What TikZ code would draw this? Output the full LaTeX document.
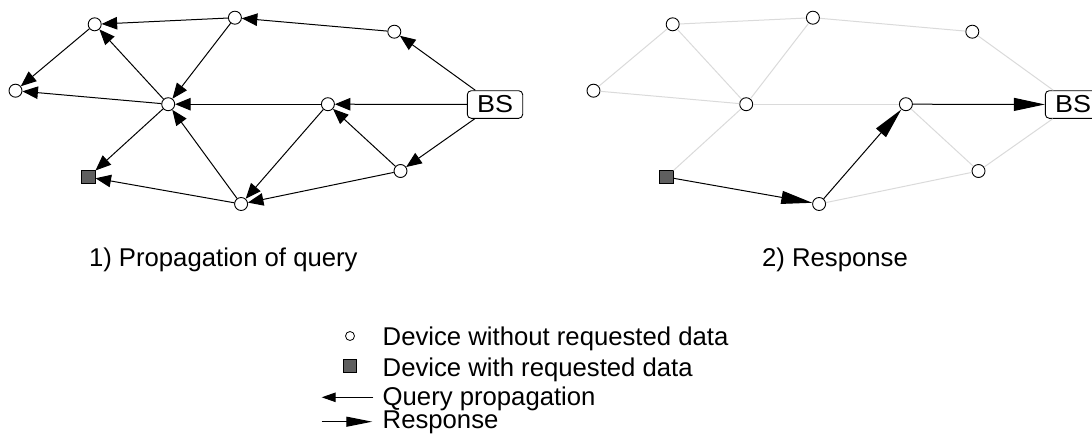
\documentclass[tikz,border=0pt]{standalone}
\usepackage{fontspec}
\setmainfont{Liberation Sans}
\usetikzlibrary{arrows.meta}

\tikzset{
  dev/.style={circle, draw, line width=0.9pt, fill=white, minimum size=13pt, inner sep=0pt},
  devdata/.style={rectangle, draw, line width=0.9pt, fill=datagray, minimum size=13.5pt, inner sep=0pt},
  bsbox/.style={rectangle, rounded corners=4pt, draw, line width=0.9pt, fill=white,
    minimum width=55.4pt, minimum height=27.6pt, inner sep=0pt,
    font=\fontsize{24.5}{26}\selectfont},
  qarrow/.style={line width=1pt, -{Triangle[length=15.5pt,width=12.5pt]}},
  rarrow/.style={line width=1pt, -{Triangle[length=31pt,width=13pt]}},
  faint/.style={line width=1pt, draw=linkgray},
  txt/.style={inner sep=0pt, font=\fontsize{25.7}{30}\selectfont},
}
\definecolor{datagray}{HTML}{5F5F5F}
\definecolor{linkgray}{HTML}{DADADA}

\begin{document}
\begin{tikzpicture}[x=1pt, y=-1pt]
\useasboundingbox (0,0) rectangle (1092,434);

% ---------- 1) propagation of the query ----------
\node[dev] (A) at (94.7,24.3) {};
\node[dev] (B) at (234.9,17.7) {};
\node[dev] (C) at (394.3,31.7) {};
\node[dev] (D) at (15.5,90.7) {};
\node[dev] (E) at (168.2,104.2) {};
\node[dev] (F) at (327.9,104.2) {};
\node[dev] (G) at (400.5,171) {};
\node[dev] (H) at (241.1,204) {};
\node[devdata] (S) at (88.3,177) {};
\node[bsbox] (BS) at (495,104.5) {\scalebox{1.1}[1]{BS}};

\draw[qarrow] (B) -- (A);
\draw[qarrow] (C) -- (B);
\draw[qarrow] (BS) -- (C);
\draw[qarrow] (A) -- (D);
\draw[qarrow] (E) -- (D);
\draw[qarrow] (E) -- (A);
\draw[qarrow] (B) -- (E);
\draw[qarrow] (F) -- (E);
\draw[qarrow] (BS) -- (F);
\draw[qarrow] (BS) -- (G);
\draw[qarrow] (G) -- (F);
\draw[qarrow] (F) -- (H);
\draw[qarrow] (G) -- (H);
\draw[qarrow] (H) -- (E);
\draw[qarrow] (E) -- (S);
\draw[qarrow] (H) -- (S);

\node[txt, anchor=base] (t1) at (223.3,266.7) {1) Propagation of query};

% ---------- 2) response ----------
\begin{scope}[xshift=578pt]
\node[dev] (rA) at (94.7,24.3) {};
\node[dev] (rB) at (234.9,17.7) {};
\node[dev] (rC) at (394.3,31.7) {};
\node[dev] (rD) at (15.5,90.7) {};
\node[dev] (rE) at (168.2,104.2) {};
\node[dev] (rF) at (327.9,104.2) {};
\node[dev] (rG) at (400.5,171) {};
\node[dev] (rH) at (241.1,204) {};
\node[devdata] (rS) at (88.3,177) {};
\node[bsbox] (rBS) at (495,104.5) {\scalebox{1.1}[1]{BS}};
\end{scope}

% links of the network, drawn faint
\foreach \u/\v in {rA/rB, rB/rC, rC/rBS, rA/rD, rD/rE, rA/rE, rB/rE, rE/rF, rBS/rG, rF/rG, rG/rH, rE/rS}
  \draw[faint] (\u) -- (\v);

% the response path
\draw[rarrow] (rS) -- (rH);
\draw[rarrow] (rH) -- (rF);
\draw[rarrow] (rF) -- (rBS);

\node[txt, anchor=base] (t2) at (835,266.7) {2) Response};

% ---------- legend ----------
\node[dev, minimum size=9pt, line width=0.8pt] (lgdev) at (350,336) {};
\node[devdata, minimum size=12.5pt] (lgdata) at (350,365.7) {};
\coordinate (qfrom) at (373.3,397.3);
\coordinate (qto) at (321.7,397.3);
\coordinate (rfrom) at (321.7,421.7);
\coordinate (rto) at (372.3,421.7);
\draw[line width=1pt, -{Triangle[length=14pt,width=9.5pt]}] (qfrom) -- (qto);
\draw[line width=1pt, -{Triangle[length=26pt,width=10pt]}] (rfrom) -- (rto);

\node[txt, anchor=base west] (l1) at (382.5,345.7) {Device without requested data};
\node[txt, anchor=base west] (l2) at (382.5,376) {Device with requested data};
\node[txt, anchor=base west] (l3) at (382.5,405) {Query propagation};
\node[txt, anchor=base west] (l4) at (382.5,428.5) {Response};
\end{tikzpicture}
\end{document}
